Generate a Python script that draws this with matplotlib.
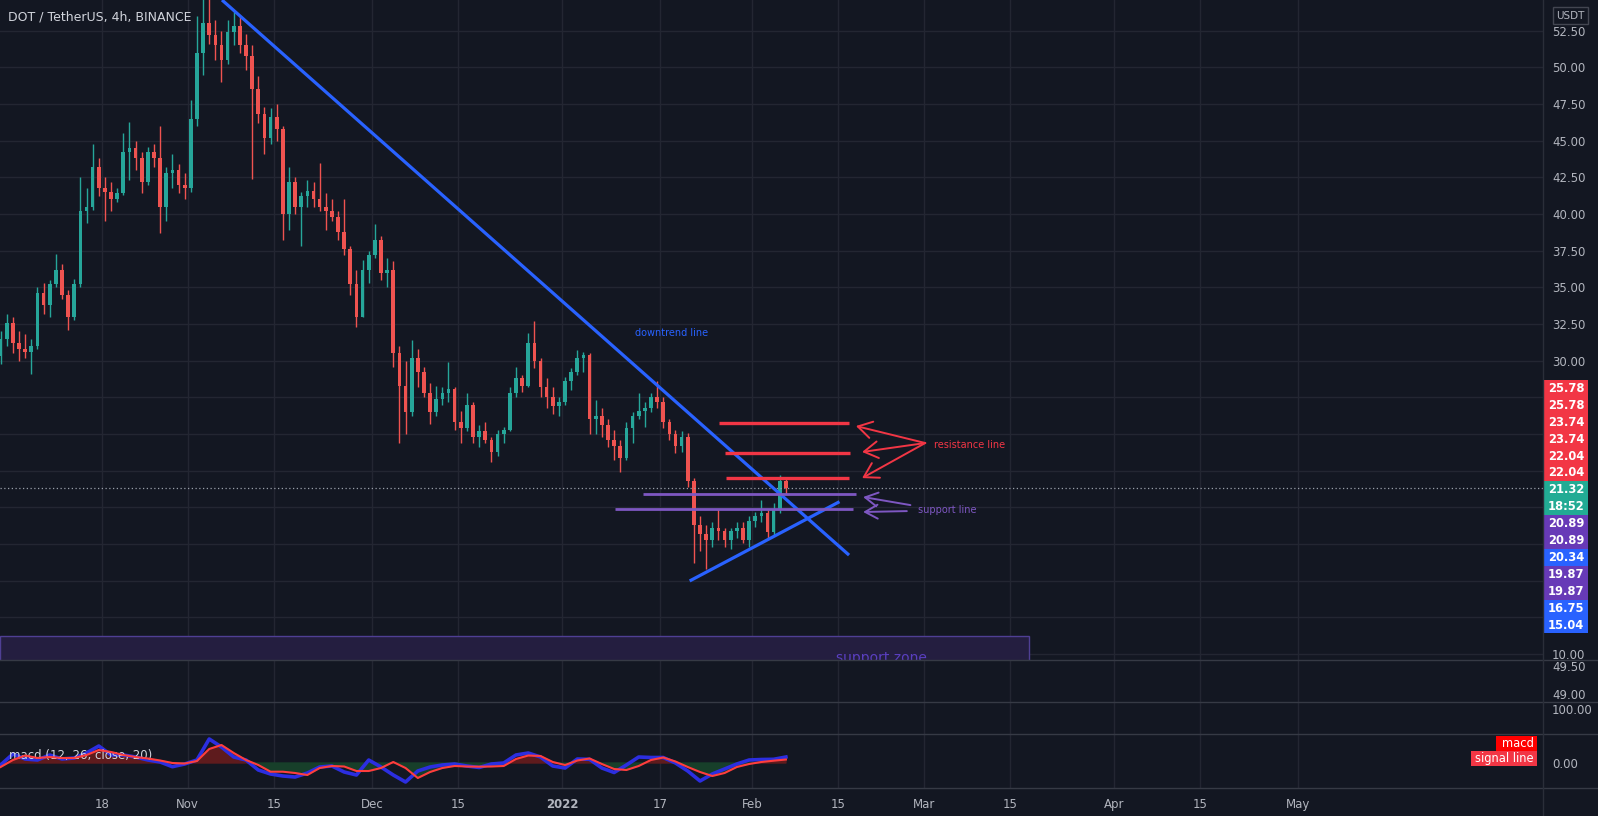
import numpy as np
import pandas as pd
import matplotlib
matplotlib.use('Agg')
import matplotlib.pyplot as plt
from matplotlib.patches import Rectangle
from matplotlib.lines import Line2D

# ---- данные: дневные свечи DOT/USDT, день 0 = 1 окт 2021
start = pd.Timestamp('2021-10-01')
dates = pd.date_range('2021-10-01', '2022-02-06', freq='D')
first_open = 30.3
close = [31.5, 32.6, 31.2, 30.8, 30.6, 31.0, 34.6, 33.8, 35.2, 36.2,
         34.5, 33.0, 35.2, 40.2, 40.5, 43.2, 41.8, 41.5, 41.0, 41.4,
         44.2, 44.5, 43.8, 42.2, 44.2, 43.8, 40.5, 42.8, 43.0, 42.0,
         41.8, 46.5, 51.0, 53.0, 52.2, 51.5, 50.5, 52.4, 52.8, 51.5,
         50.8, 48.5, 46.8, 45.2, 46.6, 45.8, 40.0, 42.2, 40.5, 41.2,
         41.6, 41.0, 40.5, 40.2, 39.8, 38.8, 37.6, 35.2, 33.0, 36.2,
         37.2, 38.2, 36.0, 36.2, 30.5, 28.3, 26.5, 30.2, 29.2, 27.8,
         26.5, 27.4, 27.8, 28.1, 25.8, 25.4, 27.0, 24.8, 25.2, 24.6,
         23.8, 25.0, 25.3, 27.8, 28.8, 28.3, 31.2, 30.0, 28.2, 27.5,
         26.9, 27.2, 28.6, 29.2, 30.2, 30.4, 26.0, 26.2, 25.6, 24.6,
         24.2, 23.4, 25.4, 26.2, 26.6, 26.8, 27.5, 27.2, 25.8, 25.0,
         24.2, 24.8, 21.8, 18.8, 18.2, 17.8, 18.6, 18.4, 17.8, 18.4,
         18.6, 17.8, 19.1, 19.4, 19.6, 18.3, 19.8, 21.8, 21.32]
high = [32.0, 33.2, 33.0, 32.0, 31.8, 31.5, 35.0, 35.3, 35.5, 37.3,
        36.6, 34.8, 35.6, 42.5, 41.8, 44.8, 43.8, 42.5, 42.2, 41.8,
        45.5, 46.3, 45.0, 44.2, 44.6, 44.8, 46.0, 43.2, 44.1, 43.4,
        42.8, 47.8, 53.5, 54.8, 55.0, 53.2, 52.5, 53.2, 53.8, 53.5,
        52.3, 51.5, 49.4, 47.3, 47.2, 47.5, 46.0, 43.2, 42.5, 41.5,
        42.3, 42.2, 43.5, 41.4, 41.0, 40.2, 41.0, 37.8, 36.2, 36.9,
        37.5, 39.3, 38.5, 37.0, 36.8, 31.0, 30.0, 31.4, 30.8, 29.6,
        28.5, 28.3, 28.2, 29.9, 28.2, 26.6, 27.8, 27.2, 25.6, 25.8,
        24.8, 25.3, 25.5, 28.2, 29.6, 29.0, 31.9, 32.7, 30.2, 28.8,
        28.2, 27.5, 28.9, 29.5, 30.7, 30.6, 30.5, 27.3, 26.8, 26.0,
        25.3, 24.6, 25.8, 26.5, 27.8, 27.2, 27.8, 28.6, 27.5, 26.0,
        25.3, 25.2, 25.1, 22.0, 19.4, 18.8, 19.0, 19.9, 18.6, 18.6,
        19.0, 19.0, 19.4, 19.7, 20.5, 19.8, 20.3, 22.2, 22.0]
low = [29.8, 31.0, 30.5, 30.0, 30.2, 29.1, 30.8, 33.2, 33.0, 35.0,
       34.2, 32.1, 32.8, 35.0, 39.4, 40.3, 41.2, 39.5, 40.2, 40.8,
       41.3, 42.3, 43.0, 41.4, 42.0, 43.2, 38.7, 39.5, 41.8, 41.4,
       41.0, 41.5, 46.0, 49.5, 51.6, 50.5, 49.0, 50.2, 51.5, 51.0,
       49.8, 42.4, 46.2, 44.1, 44.8, 45.0, 38.2, 38.9, 40.0, 37.8,
       40.5, 40.5, 40.2, 38.9, 39.5, 38.2, 37.2, 34.5, 32.3, 33.0,
       35.3, 37.0, 35.5, 35.0, 29.6, 24.4, 25.0, 26.2, 28.2, 27.5,
       25.7, 26.2, 27.0, 27.2, 25.3, 24.4, 25.2, 24.4, 24.1, 24.4,
       23.1, 23.5, 24.4, 25.2, 27.5, 27.9, 28.2, 29.5, 27.5, 26.8,
       26.4, 26.2, 27.0, 28.0, 29.0, 29.2, 25.0, 25.0, 24.8, 24.1,
       23.2, 22.4, 23.2, 24.4, 26.0, 25.5, 26.5, 26.8, 25.4, 24.6,
       23.7, 23.8, 21.4, 16.2, 17.0, 15.8, 17.3, 17.8, 17.3, 17.2,
       17.9, 17.6, 17.3, 18.7, 19.0, 17.9, 18.1, 19.6, 20.9]

# MACD (12, 26, close, 20) — каждые 2 дня, в условных единицах
macd_dates = pd.date_range('2021-10-01', '2022-02-06', freq='2D')
macd_line = [-2, 9, 4, 3, 8, 4, 5, 10, 17, 8, 8, 6, 3, 1, -3.7, -1, 3, 24, 16, 6,
             3, -7, -11, -13, -14, -10, -4, -3, -9, -12, 3, -4, -12, -19, -8, -4,
             -2, -1, -3, -4.5, -1, 0, 8, 10, 6, -3, -5, 4, 3.7, -5, -9.5, -2, 6,
             5.5, 5.5, 0, -8, -18, -11, -6, -1, 3, 3.5, 3.7, 6]
signal_line = [-4, 3, 7.5, 5, 6, 5, 5, 8, 13, 11, 8, 6, 4.5, 2.5, 0, -0.5, 2, 14, 18,
               10, 3, -2, -8.7, -8.7, -10, -12, -5, -3, -3.5, -8, -8, -5, 1, -5, -15,
               -9, -5, -3, -3.5, -3.7, -3.5, -3, 4, 7.5, 7, 1, -2, 2.5, 4.5, -1, -6,
               -7, -3, 3, 5.5, 1.5, -4, -9, -13, -10, -4, -1, 1, 2.3, 3.5]

# рисунки пользователя
resistance = [25.78, 23.74, 22.04]
resistance_span = [('2022-01-26 14:00', '2022-02-16 18:00'),
                   ('2022-01-27 14:00', '2022-02-16 22:00'),
                   ('2022-01-27 16:00', '2022-02-16 18:00')]
support = [20.89, 19.87]
support_span = [('2022-01-14 05:00', '2022-02-17 22:00'),
                ('2022-01-09 14:00', '2022-02-17 10:00')]
downtrend = [('2021-11-06 14:00', 54.59), ('2022-02-16 19:00', 16.75)]
uptrend = [('2022-01-22 01:00', 15.04), ('2022-02-15 00:00', 20.34)]
last_price = 21.32

xtick_dates = ['2021-10-18', '2021-11-01', '2021-11-15', '2021-12-01', '2021-12-15',
               '2022-01-01', '2022-01-17', '2022-02-01', '2022-02-15', '2022-03-01',
               '2022-03-15', '2022-04-01', '2022-04-15', '2022-05-01']
xtick_labels = ['18', 'Nov', '15', 'Dec', '15', '2022', '17', 'Feb', '15', 'Mar',
                '15', 'Apr', '15', 'May']


def day(s):
    return (pd.Timestamp(s) - start) / pd.Timedelta(days=1)


BG = '#131722'
GRID = '#232632'
TXT = '#b2b5be'
UP, DOWN = '#26a69a', '#ef5350'
BLUE, RED, PURPLE, TEAL = '#2962FF', '#F23645', '#673AB7', '#22AB94'

W, H = 1598, 816
fig = plt.figure(figsize=(W / 100, H / 100), dpi=100, facecolor=BG)
plt.rcParams['font.family'] = ['DejaVu Sans']


def fx(x):
    return x / W


def fy(y):
    return 1 - y / H


def pane(top, bottom, ygrid=True):
    a = fig.add_axes([0, fy(bottom), fx(1543), (bottom - top) / H])
    a.set_facecolor(BG)
    for s in a.spines.values():
        s.set_visible(False)
    a.set_xlim(0.4, 251.9)
    a.set_xticks([day(d) for d in xtick_dates])
    a.tick_params(axis='x', length=0, labelbottom=False)
    a.tick_params(axis='y', length=0, labelleft=False, labelright=True,
                  labelcolor=TXT, labelsize=8.5, pad=6.5)
    a.grid(True, axis='x', color=GRID, lw=1)
    if ygrid:
        a.grid(True, axis='y', color=GRID, lw=1)
    a.set_axisbelow(True)
    return a


ax = pane(0, 660)
ax2 = pane(660, 702, ygrid=False)
ax3 = pane(702, 734, ygrid=False)
axm = pane(734, 788, ygrid=False)

# ---- цена
x = np.array([day(d) for d in dates]) + 0.5
c = np.array(close)
o = np.r_[first_open, c[:-1]]
cols = [UP if cc >= oo else DOWN for oo, cc in zip(o, c)]
ax.vlines(x, low, high, colors=cols, lw=1, zorder=3)
ax.bar(x, np.maximum(np.abs(c - o), 0.08), bottom=np.minimum(o, c), width=0.6,
       color=cols, zorder=3)

ax.set_ylim(9.6, 54.59)
yt = np.arange(10, 53, 2.5)
ax.set_yticks(yt)
ax.set_yticklabels(['%.2f' % v if (v >= 30 or v == 10) else '' for v in yt])

# зона поддержки
ax.add_patch(Rectangle((0.4, 5), day('2022-03-18 03:00') - 0.4, 11.23 - 5,
                       facecolor='#241e40', edgecolor='#4f3f94', lw=1, zorder=2))
ax.text(day('2022-02-22 02:00'), 9.72, 'support zone', color='#5a3fc0', fontsize=10,
        ha='center', va='center', zorder=4, clip_on=True)

# линии тренда
ax.plot([day(downtrend[0][0]), day(downtrend[1][0])],
        [downtrend[0][1], downtrend[1][1]], color=BLUE, lw=2.3, zorder=5,
        solid_capstyle='butt')
ax.plot([day(uptrend[0][0]), day(uptrend[1][0])],
        [uptrend[0][1], uptrend[1][1]], color=BLUE, lw=2.3, zorder=5)
ax.text(day('2022-01-18 22:00'), 31.9, 'downtrend line', color=BLUE, fontsize=7,
        ha='center', va='center', zorder=6)

for p, (a, b) in zip(resistance, resistance_span):
    ax.hlines(p, day(a), day(b), color=RED, lw=2.4, zorder=5)
for p, (a, b) in zip(support, support_span):
    ax.hlines(p, day(a), day(b), color='#7E57C2', lw=2.0, zorder=5)

ax.axhline(last_price, color='#9aa0aa', lw=0.9, ls=(0, (1, 2)), zorder=4)

# стрелки
rstart = (day('2022-03-01 05:00'), 24.39)
for tip in [(day('2022-02-17 22:00'), 25.55), (day('2022-02-18 22:00'), 23.78),
            (day('2022-02-18 22:00'), 22.0)]:
    ax.annotate('', xy=tip, xytext=rstart, zorder=6,
                arrowprops=dict(arrowstyle='->,head_length=1.0,head_width=0.6',
                                color=RED, lw=1.4, shrinkA=0, shrinkB=0))
ax.text(day('2022-03-08 10:00'), 24.25, 'resistance line', color=RED, fontsize=7,
        ha='center', va='center', zorder=6)
for s, tip in [((day('2022-02-26 19:00'), 20.16), (day('2022-02-19 02:00'), 20.71)),
               ((day('2022-02-26 05:00'), 19.75), (day('2022-02-19 02:00'), 19.69))]:
    ax.annotate('', xy=tip, xytext=s, zorder=6,
                arrowprops=dict(arrowstyle='->,head_length=0.9,head_width=0.5',
                                color='#7E57C2', lw=1.4, shrinkA=0, shrinkB=0))
ax.text(day('2022-03-04 19:00'), 19.83, 'support line', color='#7E57C2', fontsize=7,
        ha='center', va='center', zorder=6)

# ---- пустые панели
ax2.set_ylim(48.857, 49.607)
ax2.set_yticks([49.0, 49.5])
ax2.set_yticklabels(['49.00', '49.50'])
ax3.set_ylim(0, 128)
ax3.set_yticks([100])
ax3.set_yticklabels(['100.00'])

# ---- MACD
xm = np.array([day(d) for d in macd_dates]) + 0.5
ms = np.array(signal_line)
axm.fill_between(xm, 0, ms, where=ms >= 0, color='#5e1b1d', interpolate=True, zorder=2)
axm.fill_between(xm, 0, ms, where=ms < 0, color='#173f2a', interpolate=True, zorder=2)
axm.plot(xm, macd_line, color='#2c2ee0', lw=2.6, zorder=3)
axm.plot(xm, signal_line, color='#ff3d3d', lw=1.5, zorder=4)
axm.set_ylim(-25, 29)
axm.set_yticks([0])
axm.set_yticklabels(['0.00'])
axm.text(0.006, 0.6, 'macd (12, 26, close, 20)', transform=axm.transAxes,
         color='#d1d4dc', fontsize=8.5, va='center')

axm.tick_params(axis='x', labelbottom=True, labelcolor=TXT, labelsize=8.5, pad=7)
axm.set_xticklabels(xtick_labels)
for t, lab in zip(axm.get_xticklabels(), xtick_labels):
    if lab == '2022':
        t.set_fontweight('bold')

# ---- разделители
for yy in [660, 702, 734, 788]:
    fig.add_artist(Line2D([0, 1], [fy(yy), fy(yy)], transform=fig.transFigure,
                          color='#363a45', lw=1))
fig.add_artist(Line2D([fx(1543), fx(1543)], [0, 1], transform=fig.transFigure,
                      color='#2a2e39', lw=1))

# ---- заголовок и метки шкалы
fig.text(fx(8), fy(16.7), 'DOT / TetherUS, 4h, BINANCE', color='#d1d4dc',
         fontsize=9, va='center', ha='left')
fig.add_artist(Rectangle((fx(1553), fy(24)), fx(34.5), 16.7 / H, transform=fig.transFigure,
                         facecolor=BG, edgecolor='#434651', lw=1))
fig.text(fx(1570), fy(15.6), 'USDT', color=TXT, fontsize=7.5, ha='center', va='center')

price_tags = [('25.78', RED), ('25.78', RED), ('23.74', RED), ('23.74', RED),
              ('22.04', RED), ('22.04', RED), ('21.32', TEAL), ('18:52', TEAL),
              ('20.89', PURPLE), ('20.89', PURPLE), ('20.34', BLUE),
              ('19.87', PURPLE), ('19.87', PURPLE), ('16.75', BLUE), ('15.04', BLUE)]
row = 16.9
for i, (t, col) in enumerate(price_tags):
    y0 = 380 + i * row
    fig.add_artist(Rectangle((fx(1543), fy(y0 + row)), fx(45), row / H,
                             transform=fig.transFigure, facecolor=col, lw=0))
    fig.text(fx(1566), fy(y0 + row / 2), t, color='white', fontsize=8.3,
             fontweight='bold', ha='center', va='center')

for t, col, x0, x1, y0 in [('macd', '#ff0000', 1496, 1537, 736),
                           ('signal line', RED, 1471, 1537, 751)]:
    fig.add_artist(Rectangle((fx(x0), fy(y0 + 14.5)), fx(x1 - x0), 14.5 / H,
                             transform=fig.transFigure, facecolor=col, lw=0))
    fig.text(fx(x1 - 3), fy(y0 + 7.2), t, color='white', fontsize=8.3,
             ha='right', va='center')

fig.savefig('out.png', dpi=100, facecolor=BG)
